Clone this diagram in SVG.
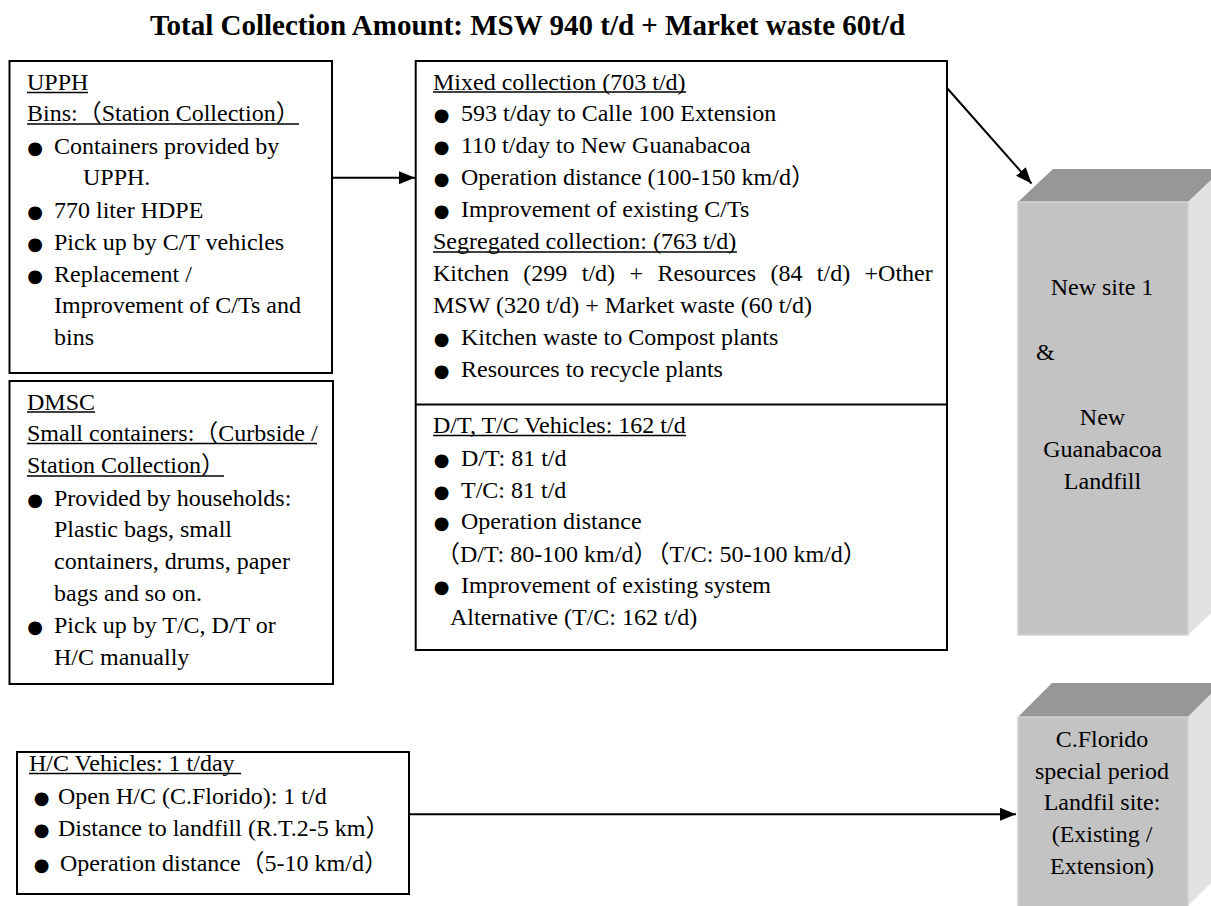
<svg xmlns="http://www.w3.org/2000/svg" width="1211" height="906" viewBox="0 0 1211 906">
<style>
text{font-family:"Liberation Serif","Noto Sans CJK JP",serif;font-size:24px;fill:#000}
.title{font-size:29px;font-weight:bold}
.b{font-family:"DejaVu Sans",sans-serif;font-size:18px;text-anchor:middle}
.box{fill:#fff;stroke:#000;stroke-width:2}
.ul{stroke:#000;stroke-width:1.3}
.conn{stroke:#000;stroke-width:2;fill:none}
.front{fill:#c3c3c3;stroke:#d2d2d2;stroke-width:1.5}
.top{fill:#979797}
.side{fill:#e2e2e2}
.c{text-anchor:middle}
</style>
<defs>
<marker id="ah" markerUnits="userSpaceOnUse" markerWidth="17" markerHeight="13" refX="16" refY="6.5" orient="auto">
<path d="M0,0 L16,6.5 L0,13 z" fill="#000"/>
</marker>
</defs>
<text class="title" x="527.5" y="35" text-anchor="middle">Total Collection Amount: MSW 940 t/d + Market waste 60t/d</text>

<g id="upph">
<rect class="box" x="9.5" y="61" width="322.5" height="312"/>
<text x="27" y="90">UPPH</text>
<line class="ul" x1="27" y1="92.5" x2="88" y2="92.5"/>
<text x="27" y="121">Bins:（Station Collection）</text>
<line class="ul" x1="27" y1="124" x2="299" y2="124"/>
<text class="b" x="35" y="154">●</text><text x="54" y="154">Containers provided by</text>
<text x="83" y="185">UPPH.</text>
<text class="b" x="35" y="218">●</text><text x="54" y="218">770 liter HDPE</text>
<text class="b" x="35" y="250">●</text><text x="54" y="250">Pick up by C/T vehicles</text>
<text class="b" x="35" y="282">●</text><text x="54" y="282">Replacement /</text>
<text x="54" y="313">Improvement of C/Ts and</text>
<text x="54" y="345">bins</text>
</g>

<g id="dmsc">
<rect class="box" x="9.5" y="381" width="323.5" height="303"/>
<text x="27" y="409.5">DMSC</text>
<line class="ul" x1="27" y1="412" x2="95" y2="412"/>
<text x="27" y="441">Small containers:（Curbside /</text>
<line class="ul" x1="27" y1="443.5" x2="317" y2="443.5"/>
<text x="27" y="473">Station Collection）</text>
<line class="ul" x1="27" y1="476" x2="224" y2="476"/>
<text class="b" x="35" y="505.5">●</text><text x="54" y="505.5">Provided by households:</text>
<text x="54" y="537">Plastic bags, small</text>
<text x="54" y="569">containers, drums, paper</text>
<text x="54" y="601">bags and so on.</text>
<text class="b" x="35" y="633">●</text><text x="54" y="633">Pick up by T/C, D/T or</text>
<text x="54" y="665">H/C manually</text>
</g>

<g id="collection">
<rect class="box" x="415.7" y="61" width="531.3" height="589"/>
<line class="conn" x1="415.7" y1="404.5" x2="947" y2="404.5"/>
<text x="433" y="89.5">Mixed collection (703 t/d)</text>
<line class="ul" x1="433" y1="92" x2="686" y2="92"/>
<text class="b" x="441.7" y="121">●</text><text x="461" y="121">593 t/day to Calle 100 Extension</text>
<text class="b" x="441.7" y="153">●</text><text x="461" y="153">110 t/day to New Guanabacoa</text>
<text class="b" x="441.7" y="184.5">●</text><text x="461" y="184.5">Operation distance (100-150 km/d）</text>
<text class="b" x="441.7" y="217">●</text><text x="461" y="217">Improvement of existing C/Ts</text>
<text x="433" y="249">Segregated collection: (763 t/d)</text>
<line class="ul" x1="433" y1="252" x2="737" y2="252"/>
<text x="433" y="280.5" word-spacing="8.4">Kitchen (299 t/d) + Resources (84 t/d) +Other</text>
<text x="433" y="312.5">MSW (320 t/d) + Market waste (60 t/d)</text>
<text class="b" x="441.7" y="345">●</text><text x="461" y="345">Kitchen waste to Compost plants</text>
<text class="b" x="441.7" y="377">●</text><text x="461" y="377">Resources to recycle plants</text>
<text x="433" y="433">D/T, T/C Vehicles: 162 t/d</text>
<line class="ul" x1="433" y1="435.5" x2="686" y2="435.5"/>
<text class="b" x="441.7" y="466">●</text><text x="461" y="466">D/T: 81 t/d</text>
<text class="b" x="441.7" y="497.5">●</text><text x="461" y="497.5">T/C: 81 t/d</text>
<text class="b" x="441.7" y="529">●</text><text x="461" y="529">Operation distance</text>
<text x="436" y="561.5">（D/T: 80-100 km/d）（T/C: 50-100 km/d）</text>
<text class="b" x="441.7" y="593">●</text><text x="461" y="593">Improvement of existing system</text>
<text x="450" y="625">Alternative (T/C: 162 t/d)</text>
</g>

<g id="hc">
<rect class="box" x="17" y="752" width="392" height="142"/>
<text x="29" y="770.5">H/C Vehicles: 1 t/day</text>
<line class="ul" x1="29" y1="773.5" x2="241" y2="773.5"/>
<text class="b" x="41.7" y="803.5">●</text><text x="58" y="803.5">Open H/C (C.Florido): 1 t/d</text>
<text class="b" x="41.7" y="836">●</text><text x="58" y="836">Distance to landfill (R.T.2-5 km）</text>
<text class="b" x="41.7" y="871">●</text><text x="60" y="871">Operation distance（5-10 km/d）</text>
</g>

<g id="landfill1">
<polygon class="top" points="1018,202 1053,169 1223,169 1188,202"/>
<polygon class="side" points="1188,202 1223,169 1223,602 1188,635"/>
<rect class="front" x="1018" y="202" width="170" height="433"/>
<text class="c" x="1102" y="295">New site 1</text>
<text x="1036" y="360">&amp;</text>
<text class="c" x="1102.5" y="425">New</text>
<text class="c" x="1102.5" y="457">Guanabacoa</text>
<text class="c" x="1102.5" y="488.5">Landfill</text>
</g>

<g id="landfill2">
<polygon class="top" points="1018,717 1052,683 1222,683 1188,717"/>
<polygon class="side" points="1188,717 1222,683 1222,872 1188,906"/>
<rect class="front" x="1018" y="717" width="170" height="192"/>
<text class="c" x="1102" y="746.5">C.Florido</text>
<text class="c" x="1102" y="778.5">special period</text>
<text class="c" x="1102" y="810">Landfil site:</text>
<text class="c" x="1102" y="842">(Existing /</text>
<text class="c" x="1102" y="873.5">Extension)</text>
</g>

<g id="connectors">
<line class="conn" x1="332" y1="177.7" x2="415" y2="177.7" marker-end="url(#ah)"/>
<line class="conn" x1="947" y1="88" x2="1031.5" y2="183.5" marker-end="url(#ah)"/>
<line class="conn" x1="409" y1="814.3" x2="1016" y2="814.3" marker-end="url(#ah)"/>
</g>
</svg>
